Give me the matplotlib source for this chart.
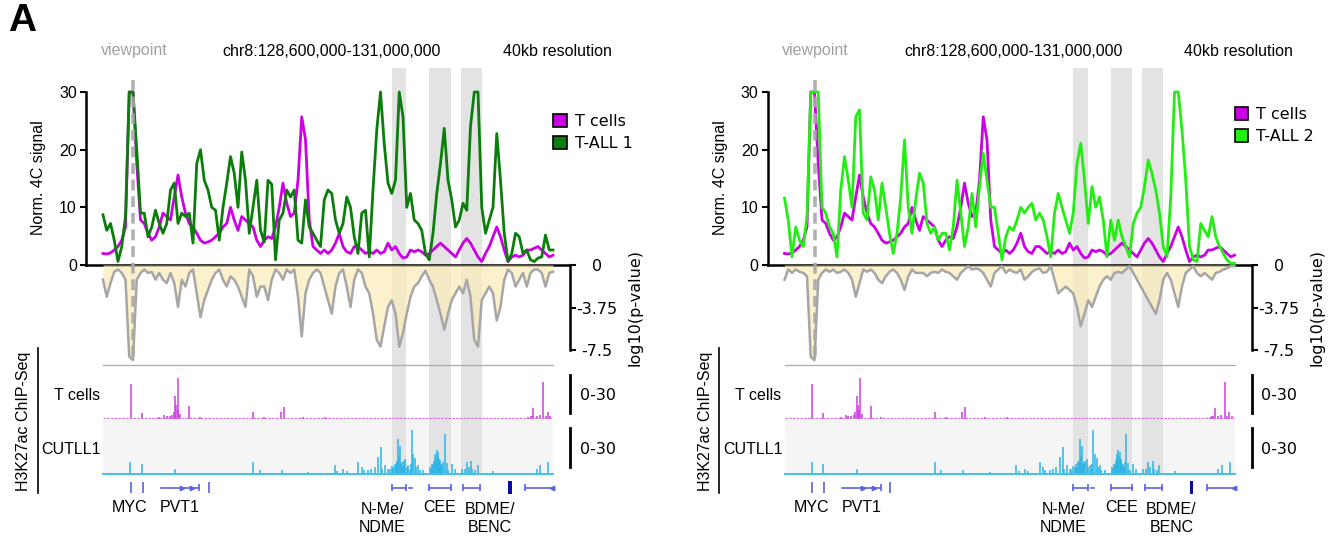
import numpy as np
import matplotlib
matplotlib.use("Agg")
import matplotlib.pyplot as plt
from matplotlib.patches import Patch, Rectangle
from matplotlib.lines import Line2D

# ---------------------------------------------------------------- data
BIN_START = 128.6      # Mb, first 4C bin
BIN_STEP = 0.02        # Mb between read-off bins
REGION = (128.6, 131.0)
VIEWPOINT = 128.762

t_cells = [2, 1.9, 2.1, 2.6, 3.2, 4.3, 6.6, 30, 30, 17.6,
           7.8, 7.2, 5.5, 4.3, 4.9, 6.6, 9, 8.4, 7.8, 11.8,
           15.6, 11.8, 9, 7.2, 6.6, 5.5, 4.3, 3.8, 4, 4.3,
           4.9, 5.5, 6.6, 7.2, 10, 7.8, 6, 8.4, 7.8, 7.2,
           6.6, 4.3, 3.2, 4.3, 4.9, 4.6, 6.6, 10, 14.2, 10.7,
           8.4, 9, 14.7, 25.7, 21.7, 7.8, 3.2, 2.6, 2, 2.6,
           2, 2.6, 3.8, 5.5, 3.2, 2.3, 2, 3.2, 3.2, 2.6,
           2, 2.3, 2, 2.6, 2, 2.3, 3.8, 2.6, 3.2, 2,
           1.2, 1.4, 2.6, 2.3, 2.6, 2.3, 1.7, 2, 2.6, 3.2,
           3.8, 3.2, 2.6, 2, 1.4, 2.6, 3.8, 4.6, 3.8, 2.6,
           1.4, 0.6, 2, 3.2, 4.9, 6.6, 4.9, 2.6, 0.6, 1.4,
           1.7, 1.4, 1.7, 2.6, 2.6, 2.9, 3.2, 2.6, 2, 1.4, 1.7]

t_all_1 = [8.7, 6, 7.2, 4.3, 0.6, 3.2, 8.4, 30, 30, 20,
           9, 9, 4.9, 6.6, 9.5, 7.2, 5.5, 7.2, 13, 14.2,
           7.2, 9, 8.4, 9, 3.8, 17.6, 20, 14.7, 13, 10,
           9.5, 4.3, 10, 14.2, 18.8, 15.9, 10, 19.6, 14.7, 5.5,
           10, 14.7, 6, 4, 14.7, 14, 0.9, 7.8, 9, 13,
           11.8, 13, 4.3, 3.8, 11.3, 6.6, 5.5, 4.3, 3.2, 11.3,
           13, 12.4, 7.8, 5.5, 7.2, 11.8, 10, 4.9, 2, 9,
           9.5, 1.4, 13, 23.4, 30, 21, 14.2, 12.4, 14.7, 30,
           25.7, 10, 12.4, 7.8, 7.2, 6, 2, 0.9, 5.5, 12.4,
           17.6, 23.7, 14.7, 11.3, 6.6, 7.8, 10.7, 9.5, 24, 30,
           30, 10, 5.5, 7.8, 10, 22.8, 14.7, 5.5, 0.6, 2,
           5.5, 4.9, 2, 2.6, 0.9, 0.6, 1.2, 1.4, 5.2, 2.6, 2.6]

t_all_2 = [11.6, 7.8, 1.4, 6.6, 4.3, 3.2, 8.4, 30, 30, 30,
           10, 9, 6.6, 5.5, 1.4, 13, 18.8, 14.7, 10, 25.7,
           26.9, 9, 7.8, 15.3, 13, 7.8, 14.2, 10, 5.5, 2,
           5.5, 11.8, 21.7, 10, 5.5, 11.3, 15.9, 14.2, 7.2, 5.5,
           6.6, 4.3, 5.5, 5.5, 2.6, 6.6, 14.7, 9, 3.2, 6.6,
           12.4, 6.6, 13.6, 19.4, 14.7, 10, 10, 5.5, 0.9, 4.9,
           6.6, 6, 7.8, 10, 9, 10, 10.7, 7.8, 9, 7.8,
           4.9, 1.4, 9, 12.4, 10, 7.8, 5.5, 9, 17.6, 21.1,
           14.7, 7.2, 13.6, 10, 11.8, 7.8, 1.4, 7.8, 4.3, 7.8,
           4.9, 3.2, 1.4, 7.2, 9, 10, 13.6, 18.2, 15.9, 13,
           9, 3.2, 1.4, 11.8, 30, 30, 23.4, 14.7, 3.2, 0.9,
           0.6, 7.2, 6, 4.9, 8.4, 4.9, 3.2, 2, 0.9, 0.3, 0.3]

pval_1 = [-1.3, -2.8, -1.6, -0.6, -0.4, -0.7, -1.3, -8.1, -8.4, -1.3,
          -0.7, -0.4, -0.7, -0.6, -1.3, -0.7, -1.3, -1.6, -0.7, -1.6,
          -3.7, -1.3, -1.9, -0.7, -0.4, -2.5, -4.6, -3.1, -2.2, -1.3,
          -0.7, -0.4, -1.3, -1.9, -1.0, -1.3, -1.9, -2.8, -3.7, -0.4,
          -1.0, -2.8, -1.9, -1.9, -3.1, -1.3, -0.4, -0.7, -1.3, -0.4,
          -0.7, -0.4, -2.8, -6.3, -2.5, -1.3, -0.7, -0.4, -0.7, -1.9,
          -3.1, -4.3, -1.9, -0.7, -0.4, -1.9, -3.7, -1.3, -0.4, -0.7,
          -1.9, -2.5, -4.3, -6.6, -7.2, -5.4, -3.7, -3.1, -4.3, -7.2,
          -6.0, -4.3, -2.8, -1.9, -1.6, -1.0, -0.5, -1.3, -1.9, -3.1,
          -4.3, -5.7, -4.3, -3.1, -2.5, -1.9, -2.5, -1.3, -2.8, -6.6,
          -7.2, -3.1, -2.5, -1.9, -2.5, -4.9, -3.7, -1.3, -0.4, -0.7,
          -1.9, -1.3, -0.7, -1.9, -0.7, -0.4, -0.4, -0.7, -1.9, -0.7, -0.6]

pval_2 = [-1.3, -0.4, -0.7, -0.4, -0.6, -0.7, -1.0, -8.1, -8.4, -1.3,
          -0.7, -0.4, -0.6, -0.4, -0.7, -0.6, -0.4, -0.7, -1.3, -2.8,
          -1.6, -0.4, -0.6, -0.4, -0.7, -1.3, -1.6, -1.0, -0.6, -0.4,
          -0.7, -1.3, -2.2, -1.0, -0.4, -0.7, -0.7, -0.7, -1.0, -0.7,
          -0.6, -0.7, -0.4, -0.6, -0.7, -1.0, -1.3, -0.7, -0.4, -0.1,
          -0.4, -0.3, -0.4, -0.7, -1.3, -1.9, -0.7, -0.4, -0.1, -0.7,
          -0.4, -0.6, -0.7, -0.4, -1.3, -1.0, -0.6, -0.4, -0.3, -0.7,
          -0.6, -0.1, -1.3, -2.5, -2.2, -1.9, -2.2, -2.5, -3.7, -5.4,
          -4.3, -3.1, -3.7, -2.8, -1.9, -1.3, -1.0, -1.3, -0.7, -0.6,
          -0.7, -0.4, -0.1, -0.7, -1.3, -1.9, -2.5, -3.1, -3.7, -4.3,
          -3.1, -1.3, -0.7, -1.3, -2.5, -3.7, -1.9, -0.7, -0.4, -0.1,
          -0.7, -1.0, -0.7, -1.0, -1.3, -0.7, -0.6, -0.4, -0.3, -0.1, -0.1]

enhancer_bands = [(130.141, 130.216), (130.339, 130.456), (130.509, 130.621)]

chip_tcells_pos = [128.748, 128.806, 128.900, 128.927, 128.940, 128.957, 128.970,
                   128.978, 128.984, 128.991, 128.998, 129.002, 129.012, 129.059,
                   129.117, 129.268, 129.402, 129.460, 129.549, 129.564, 129.668,
                   129.784, 130.868, 130.880, 130.886, 130.895, 130.913, 130.930,
                   130.947, 130.961, 130.972, 130.986]
chip_tcells_h = [24, 4.2, 1.5, 2.8, 2.0, 1.8, 3.0,
                 5.0, 15.8, 9.3, 6.0, 27.9, 3.5, 8.8,
                 1.6, 1.0, 5.1, 1.2, 5.1, 8.4, 1.4,
                 1.2, 1.5, 2.0, 2.2, 7.4, 2.0, 2.5,
                 25.1, 2.3, 4.7, 2.3]

chip_cutll1_pos = [128.744, 128.806, 128.984, 129.402, 129.437, 129.553, 129.695,
                   129.837, 129.850, 129.882, 129.900, 129.962, 129.980, 129.990,
                   130.015, 130.030, 130.050, 130.068, 130.083, 130.090, 130.104,
                   130.122, 130.130, 130.140, 130.148, 130.155, 130.160, 130.166,
                   130.170, 130.175, 130.180, 130.184, 130.190, 130.196, 130.200,
                   130.205, 130.211, 130.220, 130.228, 130.235, 130.240, 130.246,
                   130.255, 130.264, 130.270, 130.282, 130.290, 130.308, 130.344,
                   130.350, 130.355, 130.362, 130.367, 130.371, 130.375, 130.380,
                   130.385, 130.389, 130.393, 130.397, 130.400, 130.406, 130.410,
                   130.415, 130.422, 130.433, 130.440, 130.460, 130.477, 130.513,
                   130.530, 130.540, 130.550, 130.563, 130.570, 130.585, 130.598,
                   130.682, 130.913, 130.932, 130.975]
chip_cutll1_h = [8.2, 6.8, 3.6, 8.2, 3.0, 3.0, 2.0,
                 6.4, 2.5, 4.0, 2.5, 8.6, 5.2, 3.0,
                 3.0, 4.0, 5.0, 11.4, 17.7, 4.0, 6.4,
                 4.0, 4.0, 6.0, 5.0, 7.0, 5.0, 8.6,
                 9.0, 22.7, 12.0, 18.8, 7.0, 8.6, 6.0,
                 9.0, 10.4, 5.0, 6.4, 4.0, 7.0, 29.0,
                 13.2, 10.9, 5.0, 6.4, 3.0, 3.0, 5.2,
                 4.0, 7.0, 6.4, 9.0, 13.2, 11.0, 15.9,
                 12.0, 15.0, 10.0, 9.8, 7.0, 6.4, 5.0,
                 8.0, 26.3, 7.5, 3.0, 6.8, 4.0, 4.0,
                 4.0, 8.2, 5.0, 9.1, 4.0, 3.0, 6.4,
                 2.3, 3.6, 6.4, 8.6]

sig_ticks = [0, 10, 20, 30]
p_ticks = [0, -3.75, -7.5]
p_ticklabels = ["0", "-3.75", "-7.5"]

myc_ticks = [128.748, 128.811]
pvt1_span = (128.909, 129.112)
pvt1_arrows = [129.020, 129.075]
pvt1_extra_tick = 129.164
enh_genes = [(130.141, 130.216), (130.339, 130.456), (130.520, 130.611)]
nme_dash = (130.232, 130.248)
block_span = (130.760, 130.781)
right_gene = (130.851, 130.995)
gene_labels = ["MYC", "PVT1", "N-Me/\nNDME", "CEE", "BDME/\nBENC"]
gene_label_pos = [128.744, 129.011, 130.088, 130.397, 130.664]

# ---------------------------------------------------------------- style
W, H = 1339, 540
MAG = "#cc00e6"
GREEN1 = "#0b7d0b"
GREEN2 = "#22ee11"
SANS = ["Liberation Sans", "DejaVu Sans"]
VER = ["DejaVu Sans"]
FS = 11.5

PX_PER_MB = 187.5
X0_PX = 103


def px2mb(px):
    return REGION[0] + (px - X0_PX) / PX_PER_MB


XLIM = (px2mb(86), px2mb(570))
x_bins = BIN_START + BIN_STEP * np.arange(len(t_cells))

fig = plt.figure(figsize=(W / 100, H / 100), dpi=100)


def panel(dx, tall, tall_color, tall_name, pval, legend_y):
    def rect(x0, y0, x1, y1):
        return [(x0 + dx) / W, 1 - y1 / H, (x1 - x0) / W, (y1 - y0) / H]

    def ftext(x, y, s, **kw):
        fig.text((x + dx) / W, 1 - y / H, s, **kw)

    # background layer: CUTLL1 box, shaded enhancer bands, separator
    bg = fig.add_axes(rect(86, 60, 570, 480), zorder=0)
    bg.set_xlim(XLIM)
    bg.set_ylim(480, 60)
    bg.axis("off")
    bg.add_patch(Rectangle((REGION[0], 420), REGION[1] - REGION[0], 55,
                           facecolor="#f5f5f5", edgecolor="none"))
    for b0, b1 in enhancer_bands:
        bg.add_patch(Rectangle((b0, 68), b1 - b0, 475 - 68,
                               facecolor="#e3e3e3", edgecolor="none"))
    bg.plot(REGION, [365, 365], color="#b0b0b0", lw=1)

    # 4C signal
    ax = fig.add_axes(rect(86, 92, 570, 265), zorder=2)
    ax.patch.set_visible(False)
    ax.set_xlim(XLIM)
    ax.set_ylim(0, 30)
    ax.plot(x_bins, t_cells, color=MAG, lw=2.0, clip_on=False, zorder=3)
    ax.plot(x_bins, tall, color=tall_color, lw=2.0, clip_on=False, zorder=4)
    ax.spines["top"].set_visible(False)
    ax.spines["right"].set_visible(False)
    ax.spines["left"].set_linewidth(1.8)
    ax.spines["bottom"].set_linewidth(1.8)
    ax.set_xticks([])
    ax.set_yticks(sig_ticks)
    ax.set_yticklabels([str(t) for t in sig_ticks], family=SANS, fontsize=FS)
    ax.tick_params(axis="y", length=4.5, width=1.5, pad=2)

    # p-value track
    axp = fig.add_axes(rect(86, 265, 570, 350), zorder=2)
    axp.patch.set_visible(False)
    axp.set_xlim(XLIM)
    axp.set_ylim(-7.5, 0)
    axp.fill_between(x_bins, pval, 0, color="#fbecb8", alpha=0.7, lw=0,
                     clip_on=False, zorder=2)
    axp.plot(x_bins, pval, color="#a6a6a6", lw=1.8, clip_on=False, zorder=3)
    for s in ["top", "left", "bottom"]:
        axp.spines[s].set_visible(False)
    axp.spines["right"].set_linewidth(1.8)
    axp.yaxis.tick_right()
    axp.set_xticks([])
    axp.set_yticks(p_ticks)
    axp.set_yticklabels(p_ticklabels, family=VER, fontsize=FS)
    axp.tick_params(axis="y", length=4.5, width=1.5, pad=15)
    for lbl in axp.get_yticklabels():
        lbl.set_horizontalalignment("center")

    # ChIP tracks
    axt = fig.add_axes(rect(86, 375, 570, 419), zorder=2)
    axt.patch.set_visible(False)
    axt.set_xlim(XLIM)
    axt.set_ylim(0, 30)
    axt.vlines(chip_tcells_pos, 0, chip_tcells_h, color="#d03ce0", lw=1.1)
    axt.plot(REGION, [0.6, 0.6], color="#d86ae6", lw=0.9, ls=(0, (2, 1)))
    axc = fig.add_axes(rect(86, 428, 570, 475), zorder=2)
    axc.patch.set_visible(False)
    axc.set_xlim(XLIM)
    axc.set_ylim(0, 30)
    axc.vlines(chip_cutll1_pos, 0, chip_cutll1_h, color="#2ab4e6", lw=1.1)
    axc.plot(REGION, [0.7, 0.7], color="#45bfea", lw=1.4)
    for a, lo in ((axt, 4), (axc, 5)):
        for s in ["top", "left", "bottom"]:
            a.spines[s].set_visible(False)
        a.spines["right"].set_linewidth(2.0)
        a.spines["right"].set_bounds(lo, 30)
        a.set_xticks([])
        a.set_yticks([])
    ftext(598, 395, "0-30", family=VER, fontsize=FS, ha="center", va="center")
    ftext(598, 449, "0-30", family=VER, fontsize=FS, ha="center", va="center")
    ftext(100, 395, "T cells", family=SANS, fontsize=FS, ha="right", va="center")
    ftext(101, 449, "CUTLL1", family=SANS, fontsize=FS, ha="right", va="center")
    ftext(24, 421, "H3K27ac ChIP-Seq", family=SANS, fontsize=FS, rotation=90,
          ha="center", va="center")
    fig.add_artist(Line2D([(38 + dx) / W] * 2, [1 - 348 / H, 1 - 493 / H],
                          transform=fig.transFigure, color="black", lw=1.2))

    # genes
    axg = fig.add_axes(rect(86, 478, 570, 540), zorder=2)
    axg.set_xlim(XLIM)
    axg.set_ylim(540, 478)
    axg.axis("off")
    gc = "#5a64e0"
    axg.vlines(myc_ticks, 482, 493, color=gc, lw=1.2)
    axg.plot(pvt1_span, [487.5, 487.5], color=gc, lw=1.2)
    axg.plot(pvt1_arrows, [487.5] * len(pvt1_arrows), ls="none", marker=">",
             ms=3.2, color=gc)
    axg.vlines([pvt1_span[1]], 484, 491, color=gc, lw=1.2)
    axg.vlines([pvt1_extra_tick], 482, 493, color=gc, lw=1.2)
    for g0, g1 in enh_genes:
        axg.plot([g0, g1], [487.5, 487.5], color=gc, lw=1.2)
        axg.vlines([g0, g1], 484, 491, color=gc, lw=1.2)
    axg.plot(nme_dash, [487.5, 487.5], color=gc, lw=1.2)
    axg.add_patch(Rectangle((block_span[0], 481), block_span[1] - block_span[0],
                            13, facecolor="#0a0aa8", edgecolor="none"))
    axg.plot(right_gene, [487.5, 487.5], color=gc, lw=1.2)
    axg.vlines([right_gene[0]], 484, 491, color=gc, lw=1.2)
    axg.plot([right_gene[1]], [487.5], marker="<", ms=3.2, color=gc)
    for lab, pos in zip(gene_labels, gene_label_pos):
        yc = 518 if "\n" in lab else 508
        axg.text(pos, yc, lab, family=SANS, fontsize=FS, ha="center",
                 va="center", linespacing=1.25)

    # viewpoint dashed line (on top)
    ov = fig.add_axes(rect(86, 60, 570, 480), zorder=5)
    ov.set_xlim(XLIM)
    ov.set_ylim(480, 60)
    ov.axis("off")
    ov.plot([VIEWPOINT, VIEWPOINT], [80, 360], color="#a8a8a8", lw=2.6,
            ls=(0, (3, 1.6)), alpha=0.9)

    # titles & labels
    ftext(134, 51, "viewpoint", family=SANS, fontsize=FS, color="#a0a0a0",
          ha="center", va="center")
    ftext(332, 51, "chr8:128,600,000-131,000,000", family=SANS, fontsize=FS,
          ha="center", va="center")
    ftext(557, 51, "40kb resolution", family=SANS, fontsize=FS,
          ha="center", va="center")
    ftext(39, 178, "Norm. 4C signal", family=SANS, fontsize=FS, rotation=90,
          ha="center", va="center")
    ftext(635, 308, "log10(p-value)", family=VER, fontsize=FS, rotation=90,
          ha="center", va="center")

    handles = [Patch(facecolor=MAG, edgecolor="black", lw=1.2),
               Patch(facecolor=tall_color, edgecolor="black", lw=1.2)]
    fig.legend(handles, ["T cells", tall_name], loc="center left",
               bbox_to_anchor=((553 + dx) / W, 1 - legend_y / H),
               frameon=False, prop={"family": VER, "size": FS},
               handlelength=0.85, handleheight=0.85, handletextpad=0.5,
               labelspacing=0.45, borderpad=0, borderaxespad=0)


panel(0, t_all_1, GREEN1, "T-ALL 1", pval_1, 132.5)
panel(681.5, t_all_2, GREEN2, "T-ALL 2", pval_2, 125.5)

fig.text(8 / W, 1 - 21 / H, "A", family=SANS, fontsize=28, weight="bold",
         ha="left", va="center")

fig.savefig("out.png", dpi=100)
